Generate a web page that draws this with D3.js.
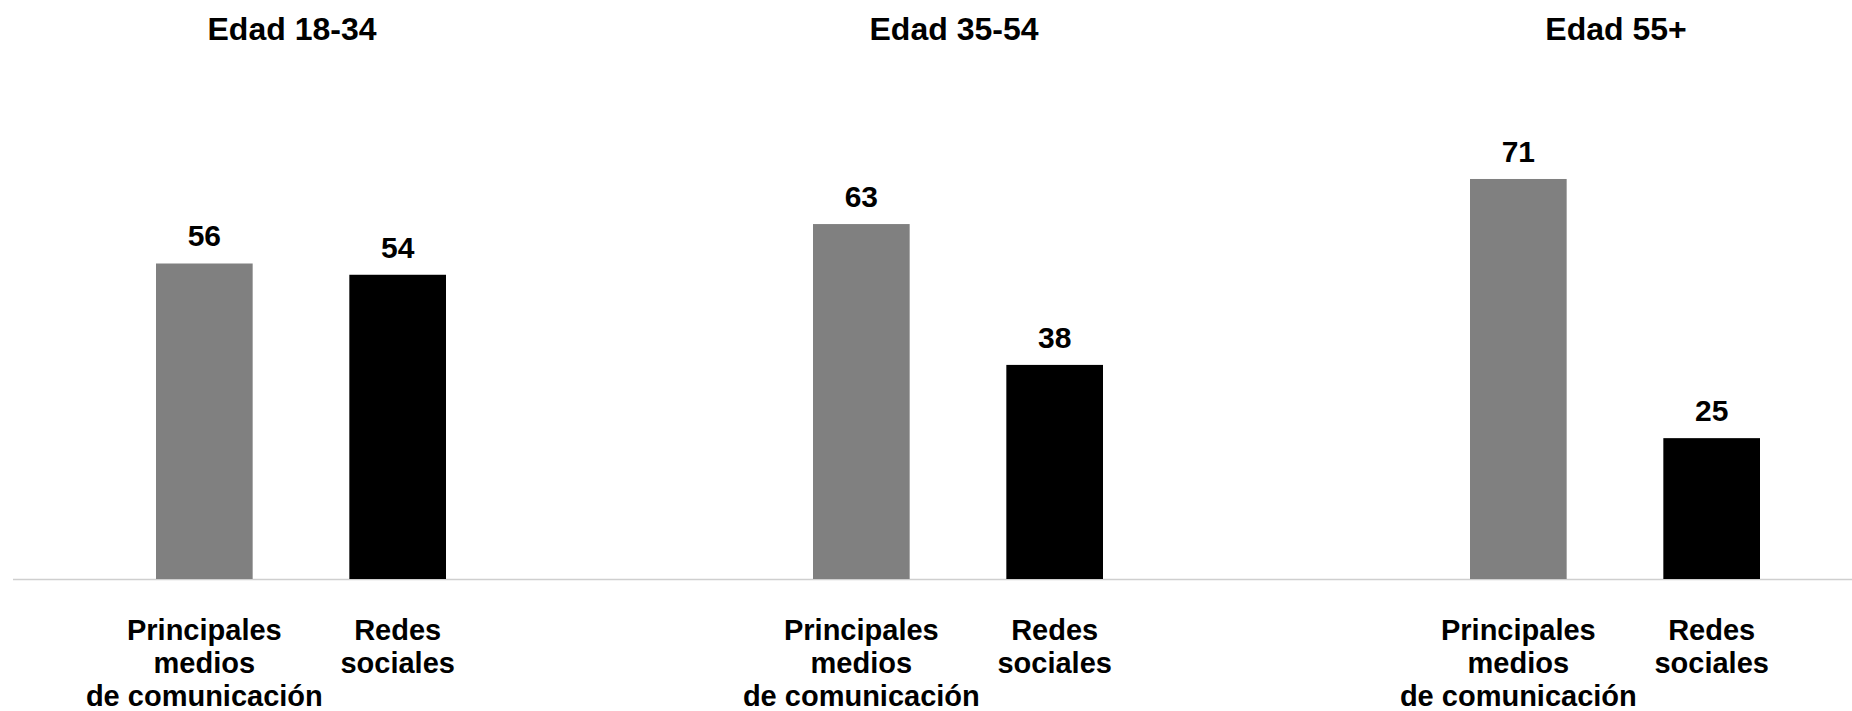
<!DOCTYPE html>
<html>
<head>
<meta charset="utf-8">
<script src="https://cdn.jsdelivr.net/npm/d3@7"></script>
<style>
  html, body { margin: 0; padding: 0; background: #fff; }
  svg { display: block; font-family: "Liberation Sans", Arial, sans-serif; font-weight: bold; }
</style>
</head>
<body>
<svg id="chart" width="1852" height="711"></svg>
<script>
const groups = ['Edad 18-34', 'Edad 35-54', 'Edad 55+'];
const series = ['Principales medios de comunicación', 'Redes sociales'];
const seriesLines = [['Principales', 'medios', 'de comunicación'], ['Redes', 'sociales']];
const medios = [56, 63, 71];
const redes = [54, 38, 25];
const colors = ['#808080', '#000000'];

const width = 1852, height = 711;
const baseY = 579;

const svg = d3.select('#chart');

const x0 = d3.scalePoint().domain(groups).range([301, 1615]);
const x1 = d3.scaleBand().domain(series).range([-145, 145]).paddingInner(0.5).paddingOuter(0);
const titleX = d3.scalePoint().domain(groups).range([292, 1616]);
const y = d3.scaleLinear().domain([0, 100]).range([baseY, baseY - 563.4]);

const rows = groups.map((g, i) => ({
  group: g,
  values: [
    {key: series[0], idx: 0, value: medios[i]},
    {key: series[1], idx: 1, value: redes[i]},
  ],
}));

// titles
svg.selectAll('.title')
  .data(groups)
  .enter().append('text')
    .attr('class', 'title')
    .attr('x', d => titleX(d))
    .attr('y', 40)
    .attr('text-anchor', 'middle')
    .attr('font-size', 32)
    .attr('fill', '#000')
    .text(d => d);

// baseline
svg.append('line')
  .attr('x1', 13)
  .attr('x2', width)
  .attr('y1', baseY + 0.5)
  .attr('y2', baseY + 0.5)
  .attr('stroke', '#cfcfcf')
  .attr('stroke-width', 1.5);

const groupG = svg.selectAll('.group')
  .data(rows)
  .enter().append('g')
    .attr('class', 'group')
    .attr('transform', d => `translate(${x0(d.group)},0)`);

groupG.selectAll('rect')
  .data(d => d.values)
  .enter().append('rect')
    .attr('x', d => x1(d.key))
    .attr('width', x1.bandwidth())
    .attr('y', d => y(d.value))
    .attr('height', d => y(0) - y(d.value))
    .attr('fill', d => colors[d.idx]);

groupG.selectAll('.value')
  .data(d => d.values)
  .enter().append('text')
    .attr('class', 'value')
    .attr('x', d => x1(d.key) + x1.bandwidth() / 2)
    .attr('y', d => y(d.value) - 17)
    .attr('text-anchor', 'middle')
    .attr('font-size', 30)
    .attr('fill', '#000')
    .text(d => d.value);

// category labels under each bar
const labels = groupG.selectAll('.cat')
  .data(d => d.values)
  .enter().append('text')
    .attr('class', 'cat')
    .attr('x', d => x1(d.key) + x1.bandwidth() / 2)
    .attr('y', 640)
    .attr('text-anchor', 'middle')
    .attr('font-size', 29)
    .attr('fill', '#000');

labels.selectAll('tspan')
  .data(d => seriesLines[d.idx].map(t => ({t, cx: x1(d.key) + x1.bandwidth() / 2})))
  .enter().append('tspan')
    .attr('x', d => d.cx)
    .attr('dy', (d, i) => i === 0 ? 0 : 33)
    .text(d => d.t);
</script>
</body>
</html>
